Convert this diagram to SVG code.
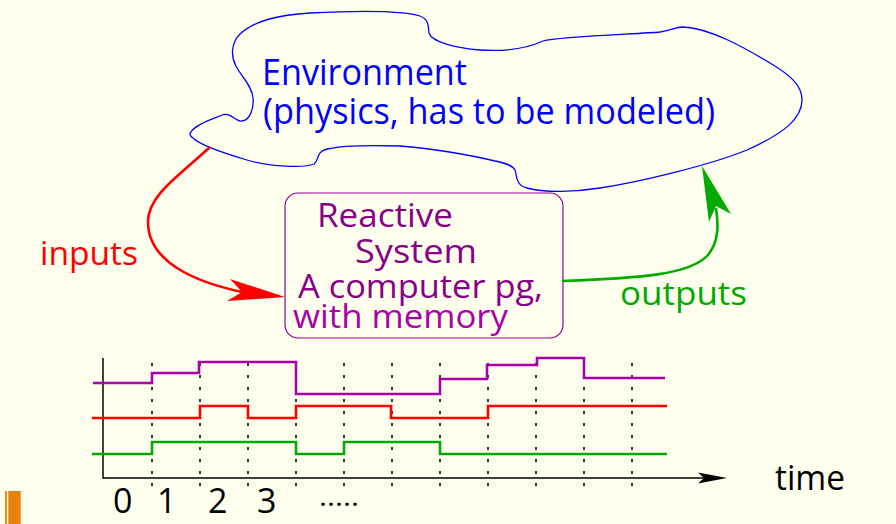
<svg xmlns="http://www.w3.org/2000/svg" width="896" height="524" viewBox="0 0 896 524">
  <style>
    text { font-family: "Open Sans", "Noto Sans", "DejaVu Sans", sans-serif; }
    .env { fill: #0000ff; font-size: 36px; }
    .sys { fill: #880088; font-size: 33px; }
    .sys2 { fill: #aa00aa; font-size: 33px; }
    .lbl { font-size: 33px; }
    .num { fill: #000; font-size: 34px; }
    .sig { fill: none; stroke-width: 2.6; stroke-linejoin: miter; }
    .tick { stroke: #000; stroke-width: 1.6; stroke-dasharray: 3 9; }
  </style>

  <!-- page background and side bar -->
  <rect x="0" y="0" width="896" height="524" fill="#ffffee"/>
  <line x1="7.5" y1="0" x2="7.5" y2="491" stroke="#ffffff" stroke-width="1.2" opacity="0.8"/>
  <rect x="5" y="491" width="1.8" height="33" fill="#e8820c"/>
  <rect x="8.3" y="491" width="12.4" height="33" fill="#e8820c"/>

  <!-- environment cloud -->
  <g id="environment">
    <path fill="none" stroke="#0000ff" stroke-width="1.3" d="M191,132 C195,125 210,120 222,115 C230,112 234,120 240,121 C250,122 254,108 253,98 C252,85 240,75 236,66 C230,55 232,42 240,34 C255,20 280,15 310,13 C350,11 400,10 420,16 C430,20 428,28 429,33 C432,42 455,48 480,50 C510,52 530,47 543,41 C560,36 640,34 660,32 C672,30 675,27 683,27 C710,28 745,48 770,63 C790,75 802,85 802,100 C802,118 785,133 747,150 C710,165 640,182 600,188 C575,192 545,193 527,188 C515,185 517,175 515,170 C512,165 505,163 495,161 C470,155 430,148 400,146 C370,145 340,146 327,149 C315,152 320,160 314,164 C305,168 270,167 247,160 C230,155 200,145 193,138 C190,136 189,134 191,132 Z"/>
    <text class="env" x="262" y="85" textLength="205" lengthAdjust="spacingAndGlyphs">Environment</text>
    <text class="env" x="263" y="124" textLength="452" lengthAdjust="spacingAndGlyphs">(physics, has to be modeled)</text>
  </g>

  <!-- reactive system box -->
  <g id="reactive-system">
    <rect x="285" y="193" width="278" height="145" rx="13" ry="13" fill="none" stroke="#990099" stroke-width="1.2"/>
    <text class="sys" x="317" y="227" textLength="136" lengthAdjust="spacingAndGlyphs">Reactive</text>
    <text class="sys" x="355" y="263" textLength="122" lengthAdjust="spacingAndGlyphs">System</text>
    <text class="sys" x="298" y="298" textLength="245" lengthAdjust="spacingAndGlyphs">A computer pg,</text>
    <text class="sys2" x="293" y="328" textLength="215" lengthAdjust="spacingAndGlyphs">with memory</text>
  </g>

  <!-- connectors between environment and system -->
  <g id="connectors">
    <path d="M210,147 C180,175 148,195 148,222 C148,262 195,282 242,292" fill="none" stroke="#ff0000" stroke-width="2.6"/>
    <polygon points="285,297 230,279 242,292 227,301" fill="#ff0000"/>
    <text class="lbl" x="40" y="265" fill="#ff0000" textLength="98" lengthAdjust="spacingAndGlyphs">inputs</text>

    <path d="M562,281 C640,278 690,275 708,255 C720,240 718,222 716,208" fill="none" stroke="#00aa00" stroke-width="2.6"/>
    <polygon points="702,166 731,214 716,206 709,222" fill="#00aa00"/>
    <text class="lbl" x="620" y="305" fill="#00aa00" textLength="127" lengthAdjust="spacingAndGlyphs">outputs</text>
  </g>

  <!-- timing chart -->
  <g id="timing">
    <g id="ticks">
      <line class="tick" x1="152" y1="363" x2="152" y2="492"/>
      <line class="tick" x1="200" y1="363" x2="200" y2="492"/>
      <line class="tick" x1="248" y1="363" x2="248" y2="492"/>
      <line class="tick" x1="296" y1="363" x2="296" y2="492"/>
      <line class="tick" x1="344" y1="363" x2="344" y2="492"/>
      <line class="tick" x1="392" y1="363" x2="392" y2="492"/>
      <line class="tick" x1="440" y1="363" x2="440" y2="492"/>
      <line class="tick" x1="488" y1="363" x2="488" y2="492"/>
      <line class="tick" x1="536" y1="363" x2="536" y2="492"/>
      <line class="tick" x1="584" y1="363" x2="584" y2="492"/>
      <line class="tick" x1="632" y1="363" x2="632" y2="492"/>
    </g>
    <line x1="103" y1="358" x2="103" y2="478.7" stroke="#000" stroke-width="1.5"/>
    <line x1="103" y1="478" x2="705" y2="478" stroke="#000" stroke-width="1.5"/>
    <polygon points="727,478 698,472.5 704,478 698,483.5" fill="#000"/>

    <polyline class="sig" stroke="#aa00aa" points="93,383 152,383 152,373 199,373 199,362 296,362 296,394 440,394 440,379 487,379 487,365 537,365 537,358 584,358 584,378 665,378"/>
    <polyline class="sig" stroke="#ff0000" points="92,418 200,418 200,406 248,406 248,418 296,418 296,406 391,406 391,418 488,418 488,406 667,406"/>
    <polyline class="sig" stroke="#00aa00" points="92,454 152,454 152,442 296,442 296,454 344,454 344,442 440,442 440,454 667,454"/>

    <text class="num" x="113" y="513">0</text>
    <text class="num" x="157" y="513">1</text>
    <text class="num" x="208" y="513">2</text>
    <text class="num" x="257" y="513">3</text>
    <text class="num" x="319" y="506" textLength="40" lengthAdjust="spacingAndGlyphs" style="font-size:26px">.....</text>
    <text class="num" x="775" y="490" textLength="70" lengthAdjust="spacingAndGlyphs">time</text>
  </g>
</svg>
